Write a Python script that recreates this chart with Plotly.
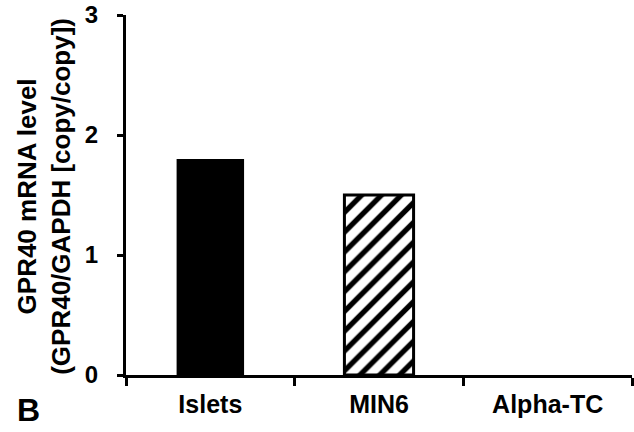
import plotly.graph_objects as go

categories = ["Islets", "MIN6", "Alpha-TC"]
values = [1.80, 1.50, 0.0]
y_ticks = [0, 1, 2, 3]
y_title = "GPR40 mRNA level<br>(GPR40/GAPDH [copy/copy])"
panel_label = "B"

FONT = "Arial, Liberation Sans, sans-serif"

fig = go.Figure()
fig.add_trace(go.Bar(
    x=[categories[0]], y=[values[0]], width=0.40,
    marker=dict(color="black", line=dict(width=0)),
    showlegend=False,
))
fig.add_trace(go.Bar(
    x=[categories[1]], y=[values[1]], width=0.41,
    marker=dict(color="white", line=dict(color="black", width=3),
                pattern=dict(shape="/", fgcolor="black", bgcolor="white",
                             fgopacity=1, size=14, solidity=0.38, fillmode="replace")),
    showlegend=False,
))
fig.add_trace(go.Bar(
    x=[categories[2]], y=[values[2]], width=0.40,
    marker=dict(color="black", line=dict(width=0)),
    showlegend=False,
))

fig.update_layout(
    width=634, height=432,
    margin=dict(l=126, r=2, t=15, b=57),
    plot_bgcolor="white", paper_bgcolor="white",
    barmode="overlay",
    xaxis=dict(
        categoryorder="array", categoryarray=categories,
        range=[-0.5, 2.5],
        showline=True, linecolor="black", linewidth=3,
        ticks="outside", tickson="boundaries", ticklen=8, tickwidth=3, tickcolor="black",
        tickfont=dict(family=FONT, size=25, color="black", weight="bold"),
        ticklabelstandoff=5,
        showgrid=False, zeroline=False,
    ),
    yaxis=dict(
        range=[0, 3], tickvals=y_ticks, ticktext=[str(v) for v in y_ticks],
        showline=True, linecolor="black", linewidth=3,
        ticks="outside", ticklen=6, tickwidth=3, tickcolor="black",
        tickfont=dict(family=FONT, size=24, color="black", weight="bold"),
        ticklabelstandoff=14,
        showgrid=False, zeroline=False,
    ),
    annotations=[
        dict(text=y_title, xref="paper", yref="paper", x=-0.162, y=0.495,
             xanchor="center", yanchor="middle", textangle=-90, showarrow=False,
             font=dict(family=FONT, size=26, color="black", weight="bold")),
        dict(text=panel_label, xref="paper", yref="paper", x=-0.22, y=-0.098,
             xanchor="left", yanchor="middle", showarrow=False,
             font=dict(family=FONT, size=32, color="black", weight="bold")),
    ],
)

fig.write_html("out.html")
